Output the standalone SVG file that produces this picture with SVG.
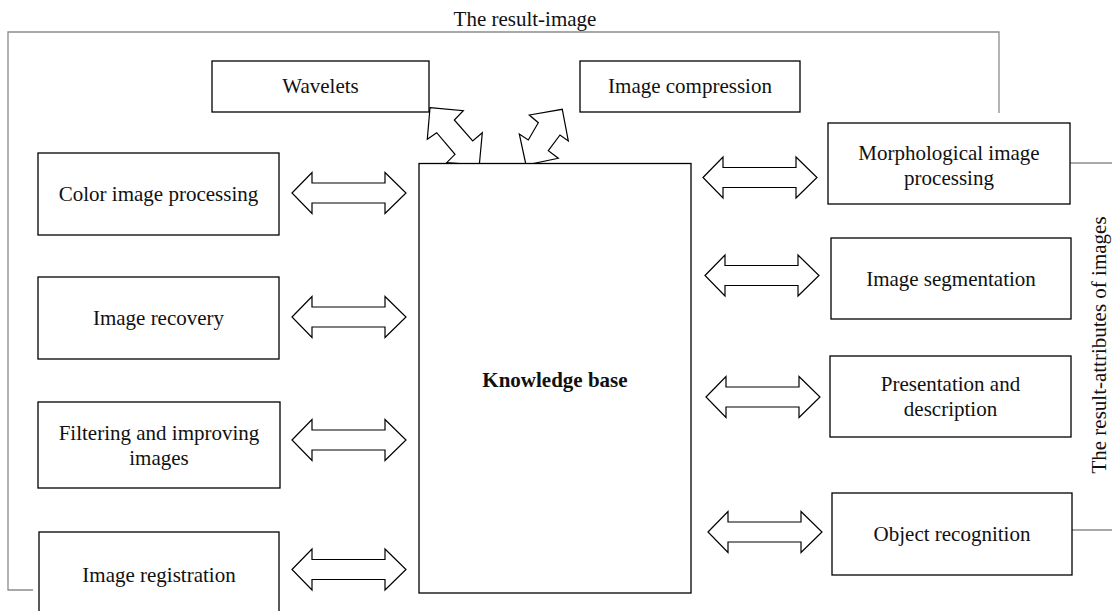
<svg xmlns="http://www.w3.org/2000/svg" width="1112" height="611" viewBox="0 0 1112 611">
<style>
.box{fill:#fff;stroke:#000;stroke-width:1.3}
.t{font-family:"Liberation Serif","Times New Roman",serif;font-size:21px;fill:#111;text-anchor:middle}
.b{font-weight:bold}
.arr{fill:#fff;stroke:#000;stroke-width:1.2;stroke-linejoin:miter}
.fr{fill:none;stroke:#8c8c8c;stroke-width:1.3}
</style>
<defs>
<polygon id="dar" points="0,0 20,-20.5 20,-10 93,-10 93,-20.5 114,0 93,20.5 93,10 20,10 20,20.5"/>
</defs>
<rect width="1112" height="611" fill="#fff"/>
<g id="feedback">
<path class="fr" d="M33,590 H8 V32 H999 V113"/>
<path class="fr" d="M1070,163 H1112"/>
<path class="fr" d="M1072,530 H1112"/>
<text class="t" x="525" y="26">The result-image</text>
<text class="t" transform="translate(1106,345) rotate(-90)">The result-attributes of images</text>
</g>
<g id="connectors">
<use href="#dar" class="arr" x="292" y="193"/>
<use href="#dar" class="arr" x="292" y="317"/>
<use href="#dar" class="arr" x="292" y="440"/>
<use href="#dar" class="arr" x="292" y="569.5"/>
<use href="#dar" class="arr" x="703" y="177.5"/>
<use href="#dar" class="arr" x="705" y="275.5"/>
<use href="#dar" class="arr" x="706" y="397"/>
<use href="#dar" class="arr" x="708" y="532"/>
<polygon class="arr" points="430,107.7 463.3,110.7 454.3,120 472.7,141 482.3,132.7 479.3,165 446.7,162.7 455,154.3 436.7,132.7 427.3,139.3"/>
<polygon class="arr" points="562.3,109.3 568.3,141 560,135 548.3,150.7 558.3,158.3 526,165 519.3,134 528.3,140 538.3,122.7 529.3,115"/>
</g>
<g id="wavelets"><rect class="box" x="212" y="61" width="217" height="51"/><text class="t" x="320.5" y="93">Wavelets</text></g>
<g id="compression"><rect class="box" x="580" y="61" width="220" height="51"/><text class="t" x="690" y="93">Image compression</text></g>
<g id="color"><rect class="box" x="38" y="153" width="241" height="82"/><text class="t" x="158.5" y="201">Color image processing</text></g>
<g id="recovery"><rect class="box" x="38" y="277" width="241" height="82"/><text class="t" x="158.5" y="325">Image recovery</text></g>
<g id="filtering"><rect class="box" x="38" y="402" width="242" height="86"/><text class="t" x="159" y="439.5">Filtering and improving</text><text class="t" x="159" y="464.5">images</text></g>
<g id="registration"><rect class="box" x="39" y="532" width="240" height="84"/><text class="t" x="159" y="582">Image registration</text></g>
<g id="knowledge"><rect class="box" x="419" y="163.5" width="272" height="429.5"/><text class="t b" x="555" y="387">Knowledge base</text></g>
<g id="morph"><rect class="box" x="828" y="123" width="242" height="81"/><text class="t" x="949" y="160">Morphological image</text><text class="t" x="949" y="185">processing</text></g>
<g id="segmentation"><rect class="box" x="831" y="238" width="240" height="81"/><text class="t" x="951" y="286">Image segmentation</text></g>
<g id="presentation"><rect class="box" x="830" y="356" width="241" height="81"/><text class="t" x="950.5" y="391">Presentation and</text><text class="t" x="950.5" y="416">description</text></g>
<g id="recognition"><rect class="box" x="832" y="493" width="240" height="82"/><text class="t" x="952" y="541">Object recognition</text></g>
</svg>
